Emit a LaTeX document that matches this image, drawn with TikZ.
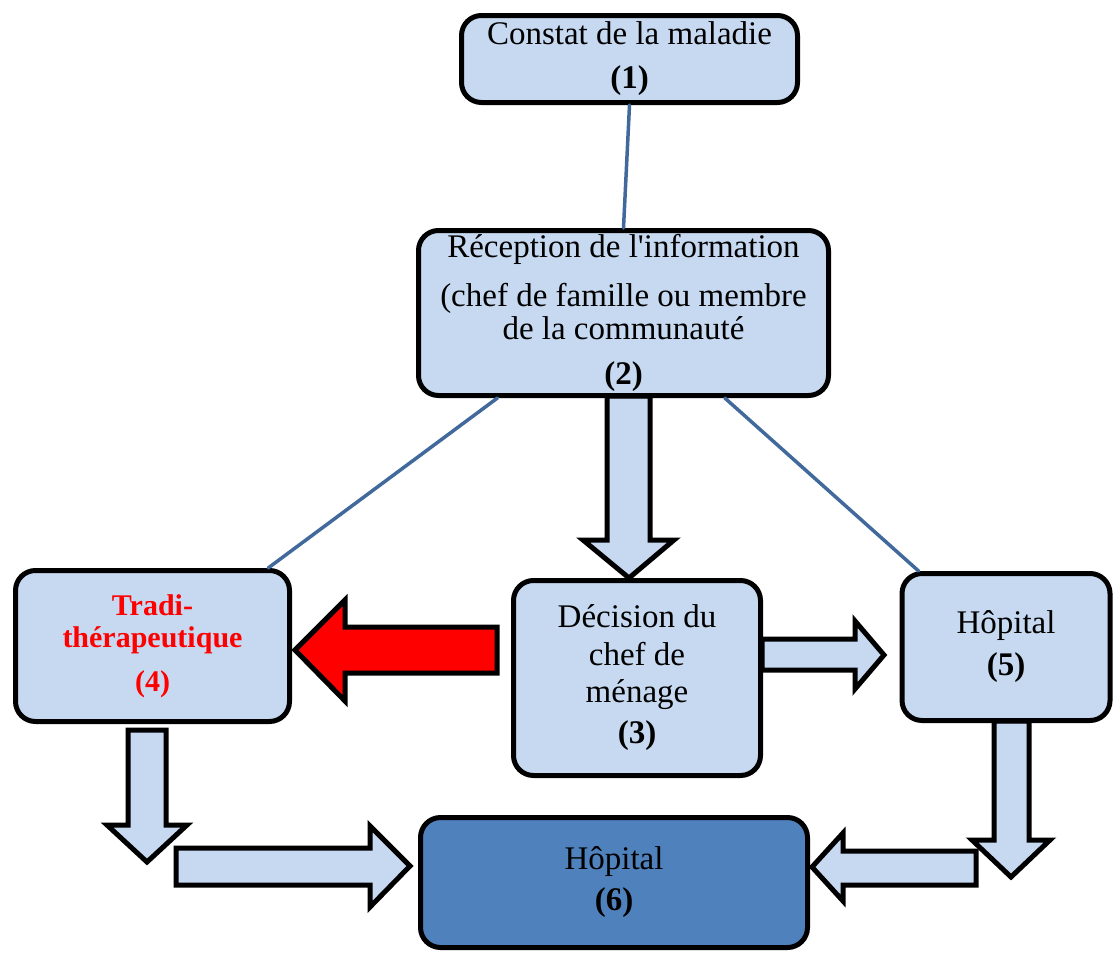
\documentclass[tikz,border=0pt]{standalone}
\usepackage{fontspec}
\setmainfont{Liberation Serif}
\definecolor{bleuclair}{HTML}{C6D9F1}
\definecolor{bleufonce}{HTML}{4F81BD}
\definecolor{bleutrait}{HTML}{41699C}
\begin{document}
\begin{tikzpicture}[x=0.5pt,y=-0.5pt,line join=round,line cap=round,
	boite/.style={draw,line width=2.5pt,rounded corners=10pt,fill=bleuclair,align=center,inner sep=0pt,font=\fontsize{16.5}{16.5}\selectfont},
	fleche/.style={draw,line width=2.5pt,fill=bleuclair,line join=miter,line cap=butt},
	lien/.style={draw=bleutrait,line width=1.75pt}]
	\useasboundingbox (0,0) rectangle (1113,953);
	%Flèches pleines
	\draw[fleche] (607,396)--(650,396)--(650,540)--(674,540)--(629,578)--(583,540)--(607,540)--cycle;
	\draw[fleche,fill=red] (497,627)--(345,627)--(345,600)--(295,650)--(345,701)--(345,673)--(497,673)--cycle;
	\draw[fleche] (762,639)--(855,639)--(855,621)--(884,655)--(855,689)--(855,670)--(762,670)--cycle;
	\draw[fleche] (128,730)--(166,730)--(166,825)--(187,825)--(147,862)--(107,825)--(128,825)--cycle;
	\draw[fleche] (176,848)--(370,848)--(370,826)--(410,866)--(370,907)--(370,885)--(176,885)--cycle;
	\draw[fleche] (994,721)--(1029,721)--(1029,840)--(1050,840)--(1011,877)--(972,840)--(994,840)--cycle;
	\draw[fleche] (976,851)--(843,851)--(843,833)--(812,867)--(843,901)--(843,885)--(976,885)--cycle;
	%Boîtes
	\node[boite,minimum width=168pt,minimum height=43.5pt] (constat) at (629.5,59) {Constat de la maladie\\[5.5pt]\textbf{(1)}};
	\node[boite,minimum width=205pt,minimum height=82.5pt] (reception) at (623.5,313) {Réception de l\textquotesingle information\\[8pt](chef de famille ou membre\\de la communauté\\[6pt]\textbf{(2)}};
	\node[boite,minimum width=123.5pt,minimum height=97.5pt] (decision) at (637,678) {Décision du\\[2.5pt]chef de\\[2pt]ménage\\[4pt]\textbf{(3)}};
	\node[boite,minimum width=137pt,minimum height=75.5pt,text=red,font=\bfseries\fontsize{15}{15}\selectfont] (tradi) at (152.5,646) {Tradi-\\[1pt]thérapeutique\\[7pt](4)};
	\node[boite,minimum width=104pt,minimum height=73.5pt] (hop) at (1006,647) {Hôpital\\[4.5pt]\textbf{(5)}};
	\node[boite,minimum width=193.5pt,minimum height=65pt,fill=bleufonce] (hopital) at (614,882.5) {Hôpital\\[4pt]\textbf{(6)}};
	%Traits
	\draw[lien] (constat.south)--(reception.north);
	\draw[lien] (reception.214.6)--(tradi.34.6);
	\draw[lien] (reception.320.1)--(hop.139.5);
\end{tikzpicture}
\end{document}
